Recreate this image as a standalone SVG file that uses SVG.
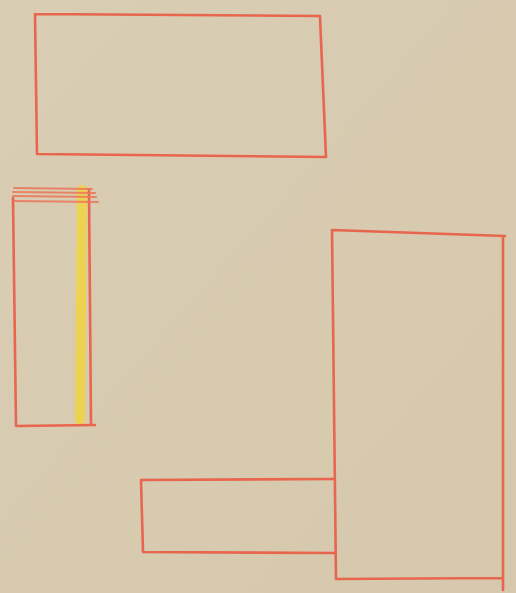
<svg xmlns="http://www.w3.org/2000/svg" width="516" height="593" viewBox="0 0 516 593">
<style>
.r{fill:none;stroke:#e8654e;stroke-width:2.6;stroke-linecap:round;stroke-linejoin:round}
.t{fill:none;stroke:#eb7559;stroke-width:2;stroke-linecap:round;opacity:0.85}
</style>
<defs>
<linearGradient id="bg" x1="0" y1="0" x2="1" y2="1">
<stop offset="0" stop-color="#d9cdb4"/>
<stop offset="1" stop-color="#d6c8ac"/>
</linearGradient>
</defs>
<rect width="516" height="593" fill="url(#bg)"/>
<g id="top-box">
<path class="r" d="M35 14 L320 16 M35 14 L37 154 L326 157 L320 17"/>
</g>
<g id="left-box">
<path d="M82 190 L80 420" stroke="#f0d440" stroke-width="10" stroke-linecap="round" fill="none" opacity="0.85"/>
<path class="r" d="M13 198 L16 426 L95 425 M89 190 L91 425"/>
<path class="t" d="M14 188 L92 189 M13 192 L95 193 M13 196 L96 197 M14 201 L98 202"/>
</g>
<g id="bottom-box">
<path class="r" d="M141 480 L334 479 M141 480 L143 552 L335 553"/>
</g>
<g id="right-box">
<path class="r" d="M332 230 L505 236 M332 230 L336 579 L502 578 M503 236 L503 590"/>
</g>
</svg>
